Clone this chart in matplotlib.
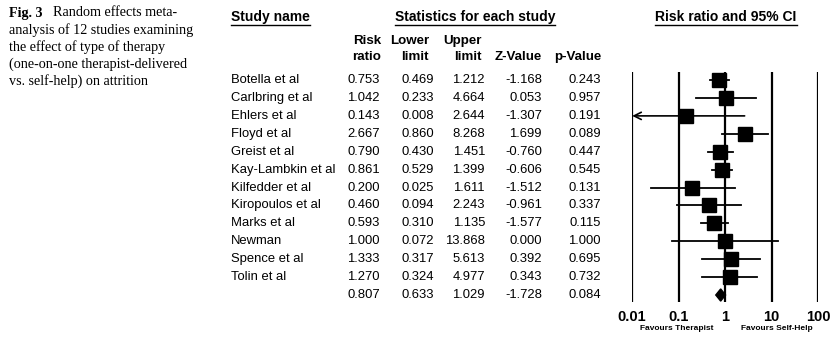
import numpy as np
import matplotlib
matplotlib.use('Agg')
import matplotlib.pyplot as plt
from matplotlib.lines import Line2D
from matplotlib.patches import Polygon
from matplotlib.transforms import blended_transform_factory

studies = ['Botella et al', 'Carlbring et al', 'Ehlers et al', 'Floyd et al', 'Greist et al',
           'Kay-Lambkin et al', 'Kilfedder et al', 'Kiropoulos et al', 'Marks et al',
           'Newman', 'Spence et al', 'Tolin et al']
risk_ratio = [0.753, 1.042, 0.143, 2.667, 0.790, 0.861, 0.200, 0.460, 0.593, 1.000, 1.333, 1.270]
lower = [0.469, 0.233, 0.008, 0.860, 0.430, 0.529, 0.025, 0.094, 0.310, 0.072, 0.317, 0.324]
upper = [1.212, 4.664, 2.644, 8.268, 1.451, 1.399, 1.611, 2.243, 1.135, 13.868, 5.613, 4.977]
z_value = [-1.168, 0.053, -1.307, 1.699, -0.760, -0.606, -1.512, -0.961, -1.577, 0.000, 0.392, 0.343]
p_value = [0.243, 0.957, 0.191, 0.089, 0.447, 0.545, 0.131, 0.337, 0.115, 1.000, 0.695, 0.732]
summary = [0.807, 0.633, 1.029, -1.728, 0.084]
ticks = [0.01, 0.1, 1, 10, 100]
tick_labels = ['0.01', '0.1', '1', '10', '100']

W, H = 840, 353
fig = plt.figure(figsize=(W / 100, H / 100), dpi=100)

def fx(px):
    return px / W

def fy(py):
    return 1 - py / H

# forest plot axes
ax = fig.add_axes([fx(632), fy(302), fx(818) - fx(632), (302 - 72) / H])
ax.set_xscale('log')
ax.set_xlim(0.01, 100)
n = len(studies)
ax.set_ylim(n + 0.39, -0.45)
for s in ax.spines.values():
    s.set_visible(False)
ax.set_yticks([])
ax.set_xticks(ticks)
ax.set_xticklabels(tick_labels, fontsize=10.5, fontweight='bold', family='Liberation Sans')
ax.xaxis.set_minor_locator(matplotlib.ticker.NullLocator())
ax.tick_params(axis='x', length=0, pad=6)
for t in ticks:
    ax.axvline(t, color='black', lw=1.6, zorder=1)

xmin = 0.01
for i in range(n):
    lo = lower[i]
    if lo < xmin:
        ax.annotate('', xy=(xmin * 1.01, i), xytext=(upper[i], i),
                    arrowprops=dict(arrowstyle='->', lw=1.2, color='black',
                                    shrinkA=0, shrinkB=0, mutation_scale=13))
    else:
        ax.plot([lo, upper[i]], [i, i], color='black', lw=1.3, zorder=2)
    ax.plot(risk_ratio[i], i, marker='s', markersize=10.3, color='black', zorder=3)

rr, lo, hi = summary[0], summary[1], summary[2]
ax.add_patch(Polygon([(lo, n), (rr, n - 0.34), (hi, n), (rr, n + 0.34)],
                     closed=True, color='black', zorder=3))

# table text
tr = blended_transform_factory(fig.transFigure, ax.transData)
sans = 'Liberation Sans'
fs = 9.4
cols_right = [380, 434, 485, 542, 601]
for i in range(n):
    fig.text(fx(231), i, studies[i], transform=tr, va='center', ha='left', fontsize=fs, family=sans)
    vals = [risk_ratio[i], lower[i], upper[i], z_value[i], p_value[i]]
    for x, v in zip(cols_right, vals):
        fig.text(fx(x), i, f'{v:.3f}', transform=tr, va='center', ha='right', fontsize=fs, family=sans)
for x, v in zip(cols_right, summary):
    fig.text(fx(x), n, f'{v:.3f}', transform=tr, va='center', ha='right', fontsize=fs, family=sans)

# column headers
hdr = []
hdr.append(fig.text(fx(231), fy(17), 'Study name', ha='left', va='center', fontsize=10,
                    fontweight='bold', family=sans))
hdr.append(fig.text(fx(475), fy(17), 'Statistics for each study', ha='center', va='center',
                    fontsize=10, fontweight='bold', family=sans))
hdr.append(fig.text(fx(726), fy(17), 'Risk ratio and 95% CI', ha='center', va='center',
                    fontsize=10, fontweight='bold', family=sans))
sub = [('Risk', 'ratio'), ('Lower', 'limit'), ('Upper', 'limit'), ('', 'Z-Value'), ('', 'p-Value')]
sub_right = [381, 429, 482, 542, 601]
for (a, b), x in zip(sub, sub_right):
    if a:
        fig.text(fx(x), fy(41), a, ha='right', va='center', fontsize=9.6, fontweight='bold', family=sans)
    fig.text(fx(x), fy(57), b, ha='right', va='center', fontsize=9.6, fontweight='bold', family=sans)

fig.text(fx(677), fy(329), 'Favours Therapist', ha='center', va='center', fontsize=6,
         fontweight='bold', family=sans)
fig.text(fx(777), fy(329), 'Favours Self-Help', ha='center', va='center', fontsize=6,
         fontweight='bold', family=sans)

# caption
serif = 'Liberation Serif'
fig.text(fx(9), fy(13), 'Fig. 3', ha='left', va='center', fontsize=10.2, fontweight='bold', family=serif)
cap = ['Random effects meta-', 'analysis of 12 studies examining', 'the effect of type of therapy',
       '(one-on-one therapist-delivered', 'vs. self-help) on attrition']
for k, line in enumerate(cap):
    x = 53 if k == 0 else 9
    fig.text(fx(x), fy(13 + 17 * k), line, ha='left', va='center', fontsize=10.2, family=serif)

# underline headers
fig.canvas.draw()
r = fig.canvas.get_renderer()
for t in hdr:
    bb = t.get_window_extent(r).transformed(fig.transFigure.inverted())
    fig.add_artist(Line2D([bb.x0, bb.x1], [bb.y0 - 0.004, bb.y0 - 0.004], color='black', lw=1.0,
                          transform=fig.transFigure))

fig.savefig('out.png', dpi=100)
